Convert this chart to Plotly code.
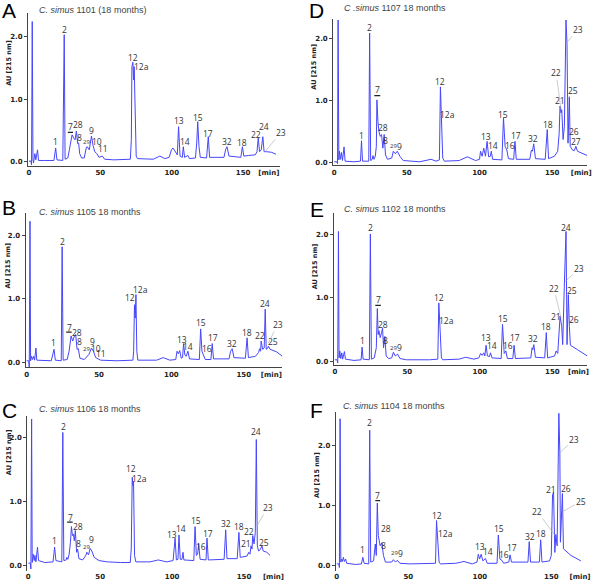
import plotly.graph_objects as go

# ---------------- data: (retention time [min], absorbance AU) ----------------
a_trace = [(0, 0.01), (1.4, 0.01), (1.8, -0.05), (2.3, 2.24), (2.8, 0.03), (3.2, -0.02), (4.1, 0.13), (4.8, 0.03),
           (6.0, 0.19), (6.7, 0.02), (11, 0.02), (17.5, 0.02), (18.7, 0.22), (19.6, 0.03), (23.7, 0.02), (24.7, 2.03),
           (25.3, 0.04), (27.2, 0.06), (28.3, 0.19), (30.2, 0.43), (31.3, 0.38), (32.3, 0.35), (33.2, 0.49),
           (34.1, 0.29), (34.8, 0.30), (35.5, 0.13), (36.9, 0.06), (38.7, 0.06), (40.1, 0.22), (40.8, 0.24),
           (42.2, 0.19), (43.8, 0.41), (44.9, 0.26), (46.1, 0.16), (47.5, 0.13), (49.1, 0.07), (51.4, 0.09),
           (53, 0.04), (59.4, 0.03), (71, 0.04), (71.7, 0.35), (72.1, 1.52), (72.8, 1.59), (73.3, 1.31), (73.7, 1.52),
           (74.4, 0.88), (75.1, 0.09), (76, 0.05), (87.1, 0.04), (91.7, 0.09), (95.2, 0.05), (98.2, 0.07),
           (99.8, 0.19), (100.9, 0.22), (102.5, 0.15), (103.9, 0.11), (104.8, 0.56), (105.8, 0.09), (107.4, 0.07),
           (108.1, 0.24), (109, 0.07), (111.3, 0.10), (112.4, 0.05), (116.6, 0.06), (117.5, 0.30), (118.2, 0.64),
           (119.1, 0.24), (120, 0.07), (124.4, 0.06), (125.6, 0.40), (126.5, 0.07), (136.6, 0.07), (137.8, 0.20),
           (138.7, 0.24), (140.1, 0.09), (148.4, 0.07), (149.5, 0.24), (150.5, 0.09), (153.9, 0.10), (158.5, 0.11),
           (159.7, 0.16), (160.6, 0.38), (161.5, 0.16), (162.7, 0.19), (163.8, 0.40), (164.7, 0.16), (166.6, 0.16),
           (170, 0.15), (173, 0.12)]
a_labels = [("1", 18.7, 0.32), ("2", 24.9, 2.12), ("7", 29.0, 0.56), ("28", 34.6, 0.60), ("8", 35.5, 0.38),
            ("29", 40.6, 0.31), ("9", 43.8, 0.50), ("10", 47.5, 0.32), ("11", 52.1, 0.21), ("12", 72.8, 1.66),
            ("12a", 79, 1.52), ("13", 105.1, 0.66), ("14", 109.4, 0.32), ("15", 118.7, 0.71), ("17", 125.6, 0.45),
            ("32", 138.9, 0.32), ("18", 149.5, 0.31), ("22", 159, 0.44), ("24", 164.5, 0.56)]
a_leaders = [("23", 176.5, 0.47, 165.4, 0.16)]
a_bar7 = (27.2, 30.9, 0.47)

b_trace = [(0, 0.03), (1.4, 0.03), (1.8, -0.08), (2.3, 2.22), (2.7, 0.03), (3.4, 0.10), (4.1, 0.05), (4.8, 0.10),
           (5.5, 0.04), (6.4, 0.23), (7, 0.04), (17, 0.03), (18.9, 0.21), (19.8, 0.04), (23.9, 0.03), (24.5, 1.82),
           (25.2, 0.04), (28, 0.05), (29.3, 0.18), (30.7, 0.42), (31.8, 0.34), (33, 0.42), (33.9, 0.44), (34.8, 0.21),
           (35.7, 0.22), (36.8, 0.07), (39.8, 0.05), (41.6, 0.10), (43, 0.13), (44.8, 0.23), (46.1, 0.18),
           (47.7, 0.08), (51.1, 0.04), (62.5, 0.03), (73.4, 0.04), (73.9, 0.18), (74.5, 0.91), (75, 0.70),
           (75.5, 1.07), (76.1, 0.18), (76.8, 0.04), (89.8, 0.04), (94.3, 0.08), (98.9, 0.04), (103, 0.05),
           (103.9, 0.18), (104.8, 0.14), (105.7, 0.19), (106.8, 0.07), (107.7, 0.08), (108.4, 0.30), (109.3, 0.12),
           (110.2, 0.10), (111.4, 0.18), (112.5, 0.06), (119.3, 0.05), (120.2, 0.53), (121.1, 0.18), (122.3, 0.12),
           (123.4, 0.05), (127.3, 0.05), (128.2, 0.30), (129.1, 0.06), (139.8, 0.06), (140.9, 0.18), (142, 0.22),
           (143.2, 0.08), (151.1, 0.07), (152.3, 0.39), (153.2, 0.08), (158, 0.10), (160.2, 0.16), (160.9, 0.22),
           (161.6, 0.18), (162, 0.34), (163, 0.21), (164.1, 0.23), (164.8, 0.84), (165.5, 0.21), (166.6, 0.23),
           (167, 0.26), (168.2, 0.21), (172.7, 0.17), (177.3, 0.09)]
b_labels = [("1", 18.6, 0.31), ("2", 24.5, 1.91), ("7", 29.5, 0.56), ("28", 34.8, 0.47), ("8", 36.4, 0.34),
            ("29", 41.6, 0.22), ("9", 45.5, 0.34), ("10", 48.2, 0.23), ("11", 51.1, 0.14), ("12", 71.6, 1.03),
            ("12a", 78.4, 1.15), ("13", 107.5, 0.36), ("14", 111.8, 0.26), ("15", 120.5, 0.63), ("16", 124.8, 0.22),
            ("17", 128.4, 0.39), ("32", 141.6, 0.30), ("18", 152.3, 0.48), ("22", 160.9, 0.42), ("24", 164.8, 0.93),
            ("25", 170.5, 0.34)]
b_leaders = [("23", 173.4, 0.60, 167, 0.31)]
b_bar7 = (27.3, 31.1, 0.48)

c_trace = [(0, 0.04), (1.4, 0.04), (1.8, -0.05), (2.3, 2.29), (2.7, 0.05), (3.4, 0.18), (4.1, 0.08), (4.6, 0.16),
           (5.3, 0.06), (6.4, 0.29), (7.1, 0.08), (11.4, 0.05), (17.2, 0.06), (18.3, 0.29), (19.2, 0.08),
           (23.3, 0.06), (24, 2.08), (24.7, 0.08), (26.3, 0.09), (26.8, 0.13), (27.5, 0.10), (28.4, 0.18),
           (29.3, 0.36), (30, 0.61), (30.7, 0.47), (31.4, 0.49), (32, 0.39), (32.7, 0.55), (33.6, 0.21), (34.3, 0.26),
           (35.2, 0.11), (37.8, 0.09), (40, 0.16), (40.7, 0.21), (41.9, 0.17), (43, 0.27), (44.2, 0.23),
           (45.8, 0.13), (49.2, 0.08), (54.9, 0.06), (64.1, 0.05), (70.9, 0.05), (71.6, 0.26), (72.3, 1.38),
           (72.8, 1.25), (73.2, 1.32), (73.9, 0.16), (74.8, 0.06), (84.7, 0.06), (90.4, 0.09), (96.1, 0.06),
           (100.7, 0.08), (102.1, 0.43), (103, 0.09), (104.1, 0.10), (104.8, 0.48), (105.7, 0.10), (106.9, 0.10),
           (107.6, 0.21), (108.2, 0.09), (115.1, 0.08), (116, 0.61), (116.9, 0.16), (117.8, 0.18), (118.5, 0.34),
           (119.5, 0.10), (123.6, 0.09), (124.3, 0.43), (125.2, 0.09), (136.2, 0.10), (137.3, 0.56), (138.2, 0.11),
           (145.3, 0.11), (146.5, 0.52), (147.4, 0.13), (152.2, 0.15), (153.3, 0.21), (154.2, 0.18), (154.9, 0.31),
           (155.6, 0.26), (156.1, 0.47), (157, 0.34), (157.9, 0.52), (158.6, 1.97), (159.3, 0.31), (160.2, 0.23),
           (161.3, 0.25), (162.5, 0.31), (163.4, 0.23), (165.9, 0.21), (168.2, 0.16)]
c_labels = [("1", 18.3, 0.39), ("2", 24.5, 2.18), ("7", 29.1, 0.75), ("28", 34.3, 0.61), ("8", 35, 0.35),
            ("29", 40.7, 0.29), ("9", 44.2, 0.41), ("12", 71.6, 1.51), ("12a", 77.5, 1.36), ("13", 100, 0.48),
            ("14", 106, 0.58), ("15", 116.7, 0.70), ("16", 119.9, 0.30), ("17", 124.7, 0.50), ("32", 137.5, 0.66),
            ("18", 146.5, 0.61), ("22", 153.8, 0.54), ("21", 151.7, 0.35), ("24", 158.6, 2.09), ("25", 163.6, 0.37)]
c_leaders = [("23", 166.6, 0.91, 159, 0.62)]
c_bar7 = (27.0, 30.9, 0.68)

d_trace = [(0, 0.01), (1.8, 0.01), (2.3, -0.02), (2.7, 2.30), (3.2, 0.04), (3.6, 0.18), (4.3, 0.05), (5, 0.16),
           (5.7, 0.03), (6.8, 0.25), (7.5, 0.02), (13.6, 0.01), (18.1, 0.02), (18.8, 0.35), (19.5, 0.02),
           (23.8, 0.02), (24.4, 2.09), (25.1, 0.03), (26.2, 0.05), (26.7, 0.11), (27.4, 0.05), (28.3, 0.10),
           (29, 0.26), (29.4, 1.01), (30.1, 0.66), (30.8, 0.50), (31.7, 0.42), (32.6, 0.45), (33.5, 0.23),
           (34.4, 0.45), (35.3, 0.12), (36.7, 0.05), (39.6, 0.07), (40.7, 0.18), (42.1, 0.14), (43.4, 0.18),
           (45.2, 0.10), (47.5, 0.03), (58.8, 0.01), (66.7, 0.05), (70.1, 0.02), (72.4, 0.04), (73.1, 1.22),
           (73.8, 0.69), (74.7, 0.07), (75.8, 0.02), (86, 0.03), (91.6, 0.09), (97.3, 0.03), (100, 0.05),
           (100.7, 0.18), (101.8, 0.10), (102.9, 0.23), (104.1, 0.10), (105.2, 0.34), (106.3, 0.09), (107.5, 0.10),
           (108.1, 0.18), (109, 0.05), (115.4, 0.04), (116.5, 0.72), (117.6, 0.26), (118.8, 0.20), (119.9, 0.06),
           (123.5, 0.05), (124.4, 0.34), (125.3, 0.05), (134.6, 0.05), (135.7, 0.20), (136.4, 0.18), (137.3, 0.30),
           (138.5, 0.06), (145.2, 0.05), (146.6, 0.53), (147.5, 0.06), (151.6, 0.10), (152.7, 0.15), (153.8, 0.18),
           (154.8, 0.47), (155.4, 0.91), (156.1, 0.80), (156.6, 0.85), (157.5, 0.37), (158.4, 0.58), (159.5, 2.30),
           (160.2, 1.92), (160.9, 0.31), (161.8, 1.06), (162.4, 0.26), (164, 0.20), (165.2, 0.19), (166.3, 0.26),
           (167.4, 0.18), (170.8, 0.14), (174.2, 0.11)]
d_labels = [("1", 18.8, 0.43), ("2", 24.4, 2.18), ("7", 30.1, 1.17), ("28", 33.3, 0.56), ("8", 35.3, 0.35),
            ("29", 40.7, 0.27), ("9", 45.2, 0.26), ("12", 73.1, 1.31), ("12a", 78.1, 0.78), ("13", 104.8, 0.42),
            ("14", 109.5, 0.27), ("15", 116.5, 0.78), ("16", 121, 0.28), ("17", 124.9, 0.44), ("32", 136.9, 0.39),
            ("18", 147.1, 0.61), ("21", 155.2, 1.0), ("24", 159.5, 2.38), ("25", 164, 1.16), ("26", 165.2, 0.5),
            ("27", 166.3, 0.34)]
d_leaders = [("22", 152.7, 1.45, 156.1, 0.85), ("23", 167.9, 2.15, 160.6, 1.95)]
d_bar7 = (27.6, 31.7, 1.08)

e_trace = [(0, 0.02), (1.6, 0.02), (2, -0.03), (2.5, 2.05), (2.9, 0.05), (3.4, 0.16), (4.1, 0.04), (4.8, 0.13),
           (5.4, 0.03), (6.6, 0.15), (7.3, 0.03), (13.2, 0.01), (18.1, 0.02), (18.8, 0.22), (19.5, 0.03),
           (23.8, 0.02), (24.5, 2.01), (25.2, 0.03), (27.2, 0.05), (28.1, 0.16), (28.6, 0.21), (29.3, 0.83),
           (29.9, 0.42), (30.4, 0.48), (31.3, 0.37), (32.2, 0.45), (32.9, 0.52), (33.6, 0.21), (34.5, 0.39),
           (35.4, 0.08), (37, 0.04), (39.2, 0.05), (40.4, 0.14), (41.7, 0.08), (43.3, 0.11), (44.9, 0.04),
           (49.4, 0.02), (65.3, 0.02), (71, 0.03), (71.7, 0.92), (72.3, 0.53), (72.6, 0.58), (73.5, 0.05),
           (74.4, 0.02), (85.7, 0.03), (90.2, 0.06), (95.9, 0.03), (99.3, 0.05), (100.5, 0.12), (101.6, 0.09),
           (102.7, 0.13), (103.4, 0.08), (104.3, 0.25), (105.2, 0.08), (106.6, 0.07), (107.3, 0.13), (108.4, 0.05),
           (114.7, 0.04), (115.6, 0.58), (116.8, 0.12), (117.9, 0.16), (119, 0.04), (122.7, 0.04), (123.6, 0.25),
           (124.5, 0.04), (135.1, 0.05), (136, 0.21), (136.5, 0.18), (137.2, 0.26), (138.3, 0.06), (144.7, 0.05),
           (145.8, 0.45), (146.7, 0.05), (151.5, 0.08), (152.6, 0.16), (153.7, 0.12), (155.3, 0.71), (156.4, 0.55),
           (157.1, 0.26), (158.3, 1.25), (159.4, 2.05), (160.1, 0.26), (161, 1.05), (161.7, 0.55), (162.4, 0.25),
           (167.3, 0.18), (174.1, 0.08)]
e_labels = [("1", 18.8, 0.33), ("2", 24.5, 2.12), ("7", 29.9, 0.97), ("28", 33.1, 0.58), ("8", 34.7, 0.33),
            ("29", 40.4, 0.21), ("9", 44.9, 0.21), ("12", 71.9, 1.0), ("12a", 77.1, 0.64), ("13", 103.9, 0.37),
            ("14", 108.4, 0.24), ("15", 115.6, 0.67), ("16", 119.7, 0.24), ("17", 124.3, 0.37), ("32", 136.3, 0.35),
            ("18", 145.8, 0.54), ("21", 152.6, 0.70), ("24", 159.4, 2.12), ("25", 163.5, 1.12), ("26", 165.1, 0.66)]
e_leaders = [("22", 151, 1.15, 156, 0.68), ("23", 168.5, 1.46, 158.9, 1.26)]
e_bar7 = (27.9, 31.7, 0.88)

f_trace = [(0, 0.03), (1.4, 0.03), (1.8, -0.03), (2.3, 2.44), (2.8, 0.06), (3.4, 0.11), (3.9, 0.07), (4.6, 0.14),
           (5.3, 0.07), (6.2, 0.11), (6.9, 0.04), (13.1, 0.02), (17.2, 0.03), (18.2, 0.14), (19.1, 0.04),
           (22.3, 0.03), (23, 2.25), (23.7, 0.06), (25.7, 0.08), (26.9, 0.36), (27.6, 0.17), (28.3, 1.04),
           (29, 0.50), (29.7, 0.39), (30.3, 0.33), (31.5, 0.38), (32.6, 0.17), (34, 0.06), (38.4, 0.06),
           (39.5, 0.10), (41.1, 0.06), (42.3, 0.09), (44.1, 0.04), (51, 0.03), (64.8, 0.03), (69, 0.04),
           (69.7, 0.75), (70.3, 0.44), (70.6, 0.50), (71.5, 0.06), (72.4, 0.03), (83.2, 0.04), (88.9, 0.07),
           (94.7, 0.03), (98, 0.06), (98.9, 0.19), (99.8, 0.11), (100.9, 0.19), (102.1, 0.08), (103.2, 0.10),
           (103.9, 0.12), (105.1, 0.04), (112, 0.04), (112.9, 0.51), (114, 0.11), (115.4, 0.09), (116.6, 0.04),
           (120.2, 0.06), (121.1, 0.18), (122.1, 0.06), (133.6, 0.06), (134.5, 0.40), (135.4, 0.06), (141.6, 0.06),
           (142.5, 0.43), (143.4, 0.06), (148.7, 0.08), (149.9, 0.17), (150.8, 1.18), (151.5, 1.22), (152.4, 0.22),
           (153.1, 0.52), (154, 0.33), (155.2, 2.53), (155.9, 1.88), (156.3, 0.39), (157, 0.88), (157.7, 1.20),
           (158.4, 0.28), (163.7, 0.17), (170.6, 0.08)]
f_labels = [("1", 18.2, 0.27), ("2", 23, 2.38), ("7", 28.7, 1.17), ("28", 34.5, 0.62), ("8", 32.6, 0.34),
            ("29", 40, 0.21), ("9", 44.6, 0.21), ("12", 70.3, 0.83), ("12a", 76.3, 0.54), ("13", 100, 0.32),
            ("14", 105.7, 0.23), ("15", 113.1, 0.61), ("16", 117.2, 0.19), ("17", 122.8, 0.30), ("32", 134.7, 0.48),
            ("18", 143, 0.54), ("21", 149.9, 1.27), ("24", 155.6, 2.61), ("26", 160.2, 1.28)]
f_leaders = [("22", 140.2, 0.90, 152.6, 0.50), ("23", 166, 2.10, 156.1, 1.88), ("25", 171, 1.07, 157.9, 0.90)]
f_bar7 = (26.9, 30.3, 1.08)

x_ticks = [0, 50, 100, 150]
y_ticks = [0, 1, 2]
y_tick_text = ["0.0", "1.0", "2.0"]

# ---------------- layout of the six panels (pixel geometry) ----------------
W, H = 600, 585
panels = [
    dict(letter="A", title="<i>C. simus</i> 1101 (18 months)", trace=a_trace, labels=a_labels, leaders=a_leaders,
         bar=a_bar7, px0=27.33, sx=1.447, py0=162.0, sy=62.67, xmax=176, ymin=-0.065, ymax=2.37, minpos=168,
         xline=True, letter_xy=(7.5, 11), title_xy=(35, 10), ytitle_xy=(7, 63)),
    dict(letter="B", title="<i>C. simus</i> 1105 18 months", trace=b_trace, labels=b_labels, leaders=b_leaders,
         bar=b_bar7, px0=25.0, sx=1.467, py0=363.33, sy=63.83, xmax=176.5, ymin=-0.07, ymax=2.35, minpos=169,
         xline=True, letter_xy=(7.5, 208), title_xy=(35, 212), ytitle_xy=(6, 266)),
    dict(letter="C", title="<i>C. simus</i> 1106 18 months", trace=c_trace, labels=c_labels, leaders=c_leaders,
         bar=c_bar7, px0=26.67, sx=1.457, py0=566.67, sy=64.17, xmax=176, ymin=-0.08, ymax=2.34, minpos=170.5,
         xline=False, letter_xy=(8, 411), title_xy=(35, 410), ytitle_xy=(7, 453)),
    dict(letter="D", title="<i>C .simus</i> 1107 18 months", trace=d_trace, labels=d_labels, leaders=d_leaders,
         bar=d_bar7, px0=336.67, sx=1.473, py0=162.67, sy=62.0, xmax=174, ymin=-0.05, ymax=2.32, minpos=170,
         xline=True, letter_xy=(319, 11), title_xy=(345, 8), ytitle_xy=(316, 67)),
    dict(letter="E", title="<i>C. simus</i> 1102 18 months", trace=e_trace, labels=e_labels, leaders=e_leaders,
         bar=e_bar7, px0=337.33, sx=1.47, py0=361.67, sy=63.33, xmax=174, ymin=-0.06, ymax=2.34, minpos=168,
         xline=True, letter_xy=(319, 210), title_xy=(345, 209), ytitle_xy=(317, 267)),
    dict(letter="F", title="<i>C. simus</i> 1104 18 months", trace=f_trace, labels=f_labels, leaders=f_leaders,
         bar=f_bar7, px0=339.33, sx=1.45, py0=566.67, sy=60.33, xmax=173, ymin=-0.08, ymax=2.55, minpos=170,
         xline=False, letter_xy=(319, 411), title_xy=(344, 407), ytitle_xy=(319, 476)),
]

LINE = "rgb(70,70,250)"
AXIS = "#444444"
TXT = "#333333"
XMIN = -0.6

fig = go.Figure()
layout = dict(width=W, height=H, margin=dict(l=0, r=0, t=0, b=0), paper_bgcolor="white",
              plot_bgcolor="white", showlegend=False)
annotations = []
shapes = []

for i, p in enumerate(panels, start=1):
    xa, ya = f"x{i}", f"y{i}"
    xk, yk = ("xaxis" if i == 1 else f"xaxis{i}"), ("yaxis" if i == 1 else f"yaxis{i}")
    t = [pt[0] for pt in p["trace"]]
    au = [pt[1] for pt in p["trace"]]
    fig.add_trace(go.Scatter(x=t, y=au, mode="lines", line=dict(color=LINE, width=1),
                             xaxis=xa, yaxis=ya, hoverinfo="skip"))
    x0p = (p["px0"] + p["sx"] * XMIN) / W
    x1p = (p["px0"] + p["sx"] * p["xmax"]) / W
    y0p = 1 - (p["py0"] - p["sy"] * p["ymin"]) / H
    y1p = 1 - (p["py0"] - p["sy"] * p["ymax"]) / H
    layout[xk] = dict(domain=[x0p, x1p], range=[XMIN, p["xmax"]], anchor=ya, showgrid=False, zeroline=False,
                      showline=p["xline"], linecolor=AXIS, linewidth=1.3, ticks="",
                      tickvals=x_ticks + [p["minpos"]], ticktext=[str(v) for v in x_ticks] + ["[min]"],
                      tickfont=dict(family="DejaVu Sans", size=7, color="#222222", weight="bold"))
    layout[yk] = dict(domain=[y0p, y1p], range=[p["ymin"], p["ymax"]], anchor=xa, showgrid=False,
                      zeroline=False, showline=True, linecolor=AXIS, linewidth=1.3, ticks="outside",
                      ticklen=3, tickcolor=AXIS, tickvals=y_ticks, ticktext=y_tick_text,
                      tickfont=dict(family="DejaVu Sans", size=7, color="#222222", weight="bold"))
    # panel letter, title, y axis title
    lx, ly = p["letter_xy"]
    annotations.append(dict(text=p["letter"], xref="paper", yref="paper", x=lx / W, y=1 - ly / H,
                            showarrow=False, font=dict(family="Liberation Sans", size=21, color="black"),
                            xanchor="center", yanchor="middle", borderpad=0))
    tx, ty = p["title_xy"]
    annotations.append(dict(text=p["title"], xref="paper", yref="paper", x=tx / W, y=1 - ty / H,
                            showarrow=False, font=dict(family="Liberation Sans", size=9, color="#444444"),
                            xanchor="left", yanchor="middle"))
    yx, yy = p["ytitle_xy"]
    annotations.append(dict(text="<b>AU [215 nm]</b>", xref="paper", yref="paper", x=yx / W, y=1 - yy / H,
                            showarrow=False, textangle=-90,
                            font=dict(family="DejaVu Sans", size=6.5, color="#222222"),
                            xanchor="center", yanchor="middle"))
    # peak labels
    for name, lt, la in p["labels"]:
        size = 6 if name == "29" else 8.5
        annotations.append(dict(text=name, x=lt, y=la, xref=xa, yref=ya, showarrow=False,
                                font=dict(family="Open Sans", size=size, color=TXT),
                                xanchor="center", yanchor="middle"))
    for name, lt, la, pt_t, pt_a in p["leaders"]:
        annotations.append(dict(text=name, x=pt_t, y=pt_a, xref=xa, yref=ya, ax=lt, ay=la,
                                axref=xa, ayref=ya, showarrow=True, arrowhead=0, arrowwidth=0.6,
                                arrowcolor="#aaaaaa", standoff=0, startstandoff=0,
                                font=dict(family="Open Sans", size=8.5, color=TXT)))
    b0, b1, by = p["bar"]
    shapes.append(dict(type="line", xref=xa, yref=ya, x0=b0, x1=b1, y0=by, y1=by,
                       line=dict(color="#222222", width=1.3)))

layout["annotations"] = annotations
layout["shapes"] = shapes
fig.update_layout(**layout)
fig.write_html("out.html", config={"displayModeBar": False},
               post_script="document.body.style.margin='0px';document.body.style.padding='0px';"
                           "document.body.style.overflow='hidden';")
